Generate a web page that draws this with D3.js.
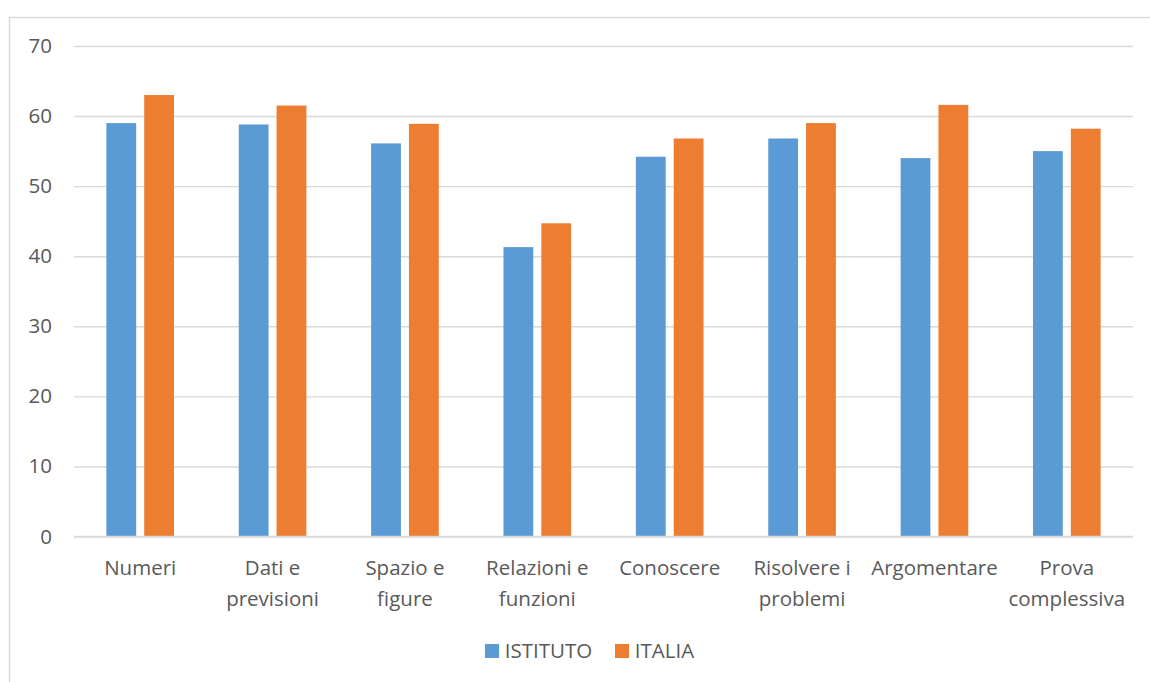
<!DOCTYPE html>
<html>
<head>
<meta charset="utf-8">
<script src="https://cdn.jsdelivr.net/npm/d3@7"></script>
<style>
  html, body { margin: 0; padding: 0; background: #fff; }
  svg { display: block; font-family: "Open Sans", "Noto Sans", sans-serif; }
</style>
</head>
<body>
<svg id="chart" width="1150" height="682"></svg>
<script>
const categories = [
  ["Numeri"],
  ["Dati e", "previsioni"],
  ["Spazio e", "figure"],
  ["Relazioni e", "funzioni"],
  ["Conoscere"],
  ["Risolvere i", "problemi"],
  ["Argomentare"],
  ["Prova", "complessiva"]
];
const seriesNames = ["ISTITUTO", "ITALIA"];
const istituto = [59.0, 58.8, 56.1, 41.3, 54.2, 56.8, 54.0, 55.0];
const italia   = [63.0, 61.5, 58.9, 44.7, 56.8, 59.0, 61.6, 58.2];
const yTicks = [0, 10, 20, 30, 40, 50, 60, 70];
const colors = ["#5B9BD5", "#ED7D31"];

const svg = d3.select("#chart");
const W = 1150, H = 682;
const plot = { left: 74, right: 1133, top: 46, bottom: 536.5 };
const FS = 20.5;
const FONT = "'Open Sans', sans-serif";
const TXT = "#595959";

// outer chart border (cut at bottom/right as in the source)
svg.append("path")
  .attr("d", `M9.5,${H} L9.5,17.5 L${W},17.5`)
  .attr("fill", "none").attr("stroke", "#d9d9d9").attr("stroke-width", 1.5);

const keys = categories.map((c, i) => i);
const x = d3.scaleBand().domain(keys).range([plot.left, plot.right]).padding(0);
const bw = x.bandwidth();
const xs = d3.scaleBand().domain(seriesNames)
  .range([bw * 0.2445, bw * 0.7555]).paddingInner(0.212).paddingOuter(0);
const y = d3.scaleLinear().domain([0, 70]).range([plot.bottom, plot.top]);

// gridlines + y labels
const yAxis = d3.axisLeft(y).tickValues(yTicks).tickSize(-(plot.right - plot.left)).tickPadding(22).tickFormat(d3.format("d"));
const gy = svg.append("g").attr("transform", `translate(${plot.left},0)`).call(yAxis);
gy.select(".domain").remove();
gy.selectAll(".tick line").attr("stroke", "#d9d9d9").attr("stroke-width", 1.4);
gy.selectAll(".tick text").attr("fill", TXT).attr("font-size", FS)
  .attr("font-family", FONT);

// bars
const data = keys.map(i => ({ i, vals: [istituto[i], italia[i]] }));
const groups = svg.append("g").selectAll("g").data(data).join("g")
  .attr("transform", d => `translate(${x(d.i)},0)`);
groups.selectAll("rect").data(d => d.vals.map((v, k) => ({ v, k })))
  .join("rect")
  .attr("x", d => xs(seriesNames[d.k]))
  .attr("width", xs.bandwidth())
  .attr("y", d => y(d.v))
  .attr("height", d => y(0) - y(d.v))
  .attr("fill", d => colors[d.k]);

// x baseline
svg.append("line").attr("x1", plot.left).attr("x2", plot.right)
  .attr("y1", y(0)).attr("y2", y(0)).attr("stroke", "#d9d9d9").attr("stroke-width", 1.6);

// category labels
const xAxis = d3.axisBottom(x).tickSize(0).tickFormat("");
const gx = svg.append("g").attr("transform", `translate(0,${y(0)})`).call(xAxis);
gx.select(".domain").remove();
gx.selectAll(".tick").each(function(d) {
  const t = d3.select(this).append("text")
    .attr("text-anchor", "middle").attr("fill", TXT)
    .attr("font-size", FS).attr("font-family", FONT);
  categories[d].forEach((line, li) => {
    t.append("tspan").attr("x", 0).attr("y", 38.8 + li * 31).text(line);
  });
});

// legend
const legendItems = [
  { name: seriesNames[0], color: colors[0], x: 485 },
  { name: seriesNames[1], color: colors[1], x: 615 }
];
const lg = svg.append("g");
legendItems.forEach(it => {
  lg.append("rect").attr("x", it.x).attr("y", 644).attr("width", 14).attr("height", 14).attr("fill", it.color);
  lg.append("text").attr("x", it.x + 19.8).attr("y", 658).attr("fill", TXT)
    .attr("font-size", FS).attr("font-family", FONT).text(it.name);
});
</script>
</body>
</html>
